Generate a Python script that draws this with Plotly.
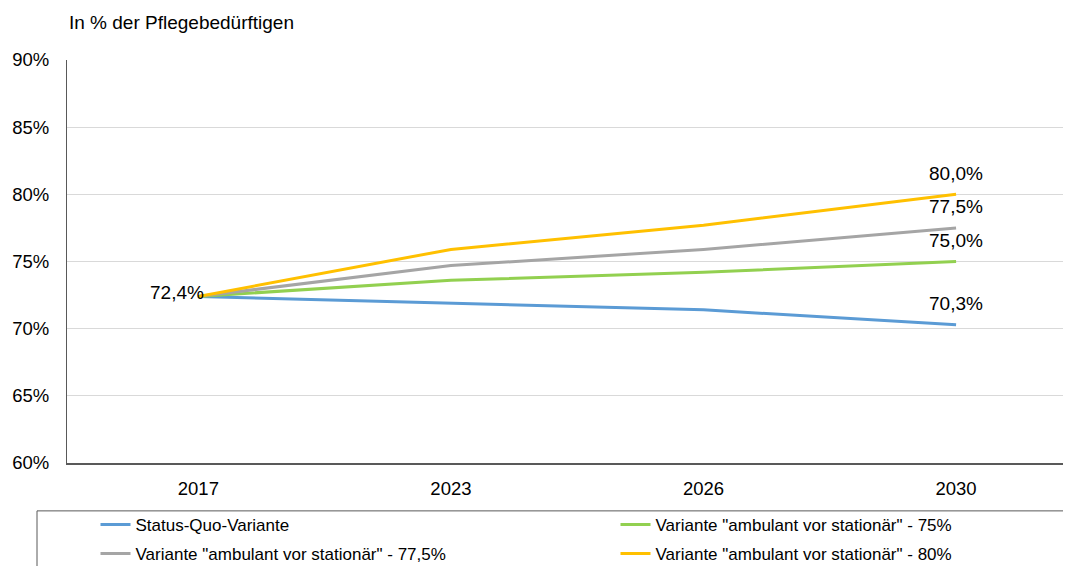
import plotly.graph_objects as go

years = ["2017", "2023", "2026", "2030"]
series_names = [
    "Status-Quo-Variante",
    "Variante \"ambulant vor stationär\" - 75%",
    "Variante \"ambulant vor stationär\" - 77,5%",
    "Variante \"ambulant vor stationär\" - 80%",
]
status_quo = [72.4, 71.9, 71.4, 70.3]
amb_75 = [72.4, 73.6, 74.2, 75.0]
amb_775 = [72.4, 74.7, 75.9, 77.5]
amb_80 = [72.4, 75.9, 77.7, 80.0]
y_ticks = [60, 65, 70, 75, 80, 85, 90]
y_tick_text = ["60%", "65%", "70%", "75%", "80%", "85%", "90%"]

colors = ["#5B9BD5", "#92D050", "#A5A5A5", "#FFC000"]
legend_ids = ["legend", "legend2", "legend", "legend2"]
all_series = [status_quo, amb_75, amb_775, amb_80]

# The page places the figure 8px from the top-left corner (body margin)
OFF = 8
W, H = 1071 - OFF, 566 - OFF
P_LEFT, P_TOP, P_BOTTOM = 67 - OFF, 59.5 - OFF, 463.5 - OFF
PW, PH = W - P_LEFT, P_BOTTOM - P_TOP

FONT = "Liberation Sans, Arial, sans-serif"


def fmt(v):
    return f"{v:.1f}%".replace(".", ",")


def px_x(page_x):
    return (page_x - OFF - P_LEFT) / PW


def px_y(page_y):
    return (P_BOTTOM - (page_y - OFF)) / PH


fig = go.Figure()
for i, (name, vals, col) in enumerate(zip(series_names, all_series, colors)):
    fig.add_trace(go.Scatter(
        x=years, y=vals, name=name, mode="lines",
        line=dict(color=col, width=3),
        legend=legend_ids[i], legendgroup=f"g{i}",
    ))

last = len(years) - 1
annotations = []
for vals in all_series:
    annotations.append(dict(
        x=last, y=vals[-1], xref="x", yref="y", text=fmt(vals[-1]),
        showarrow=False, yshift=21, font=dict(size=19, color="#000", family=FONT),
    ))
annotations.append(dict(
    x=0, y=status_quo[0], xref="x", yref="y", text=fmt(status_quo[0]),
    showarrow=False, xanchor="right", xshift=8, yshift=4,
    font=dict(size=19, color="#000", family=FONT),
))
annotations.append(dict(
    xref="paper", yref="paper", x=px_x(67), y=px_y(22),
    text="In % der Pflegebedürftigen", showarrow=False,
    xanchor="left", yanchor="middle", font=dict(size=19, color="#000", family=FONT),
))

fig.add_shape(
    type="rect", xref="paper", yref="paper",
    x0=px_x(37), x1=1.2, y0=px_y(511.5), y1=-0.5,
    line=dict(color="#595959", width=1), fillcolor="rgba(0,0,0,0)",
)

legend_common = dict(
    orientation="v", yanchor="top", xanchor="left",
    font=dict(size=17, family=FONT, color="#000"),
    bgcolor="rgba(0,0,0,0)", tracegroupgap=4, borderwidth=0,
)

fig.update_layout(
    width=W, height=H,
    margin=dict(l=P_LEFT, r=0, t=P_TOP, b=H - P_BOTTOM, pad=0, autoexpand=False),
    paper_bgcolor="white", plot_bgcolor="white",
    font=dict(family=FONT, size=18.5, color="#000"),
    showlegend=True,
    annotations=annotations,
    legend=dict(x=px_x(95.5), y=px_y(507.5), **legend_common),
    legend2=dict(x=px_x(615.5), y=px_y(507.5), **legend_common),
    xaxis=dict(
        type="category", range=[-0.52, 3.455], automargin=False,
        showgrid=False, showline=True, linecolor="#595959", linewidth=2,
        ticks="", ticklabelstandoff=8,
        tickfont=dict(size=18.5, family=FONT),
    ),
    yaxis=dict(
        range=[60, 90], tickvals=y_ticks, ticktext=y_tick_text, automargin=False,
        showgrid=True, gridcolor="#D9D9D9", gridwidth=1,
        showline=True, linecolor="#595959", linewidth=1,
        ticks="", ticklabelstandoff=13, zeroline=False,
        tickfont=dict(size=18.5, family=FONT),
    ),
)

fig.write_html("out.html")
